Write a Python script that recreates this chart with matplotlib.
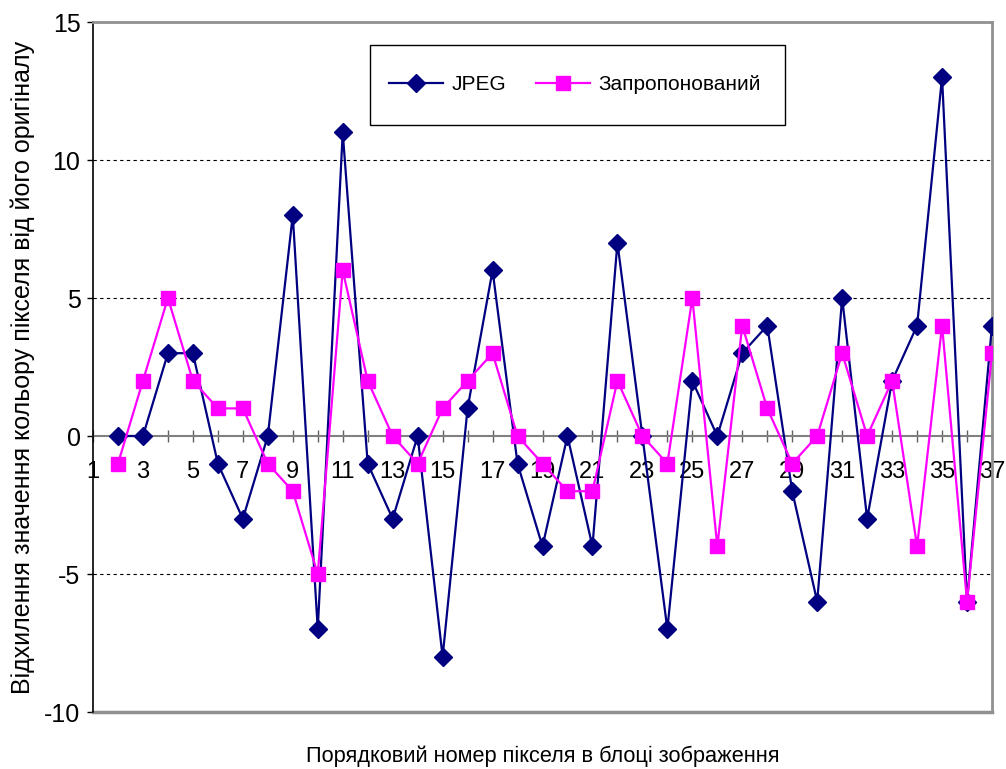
"""
Deviation of pixel colour values from the original: JPEG vs proposed method.
"""

import matplotlib

matplotlib.use("Agg")

import matplotlib.pyplot as plt
from matplotlib.patches import Rectangle

plt.rcParams["font.family"] = ["Liberation Sans", "DejaVu Sans"]

# pixel index inside the image block (first value sits on tick "2")
pixel_no = list(range(2, 38))

jpeg = [0, 0, 3, 3, -1, -3, 0, 8, -7, 11, -1, -3, 0, -8, 1, 6, -1, -4,
        0, -4, 7, 0, -7, 2, 0, 3, 4, -2, -6, 5, -3, 2, 4, 13, -6, 4]
proposed = [-1, 2, 5, 2, 1, 1, -1, -2, -5, 6, 2, 0, -1, 1, 2, 3, 0, -1,
            -2, -2, 2, 0, -1, 5, -4, 4, 1, -1, 0, 3, 0, 2, -4, 4, -6, 3]

x_labels = [str(n) for n in range(1, 38, 2)]
y_ticks = [-10, -5, 0, 5, 10, 15]

W, H = 1006, 769
fig = plt.figure(figsize=(W / 100, H / 100), dpi=100)
ax = fig.add_axes([93 / W, 1 - 712 / H, (992 - 93) / W, (712 - 22) / H])

# dashed grid lines (Excel style)
for g in (-5, 5, 10):
    ax.axhline(g, color="black", lw=0.8, ls=(0, (3, 3)), zorder=1)

ax.plot(pixel_no, jpeg, color="#000080", lw=1.6, marker="D", ms=9,
        label="JPEG", zorder=3)
ax.plot(pixel_no, proposed, color="#FF00FF", lw=1.6, marker="s", ms=10,
        label="Запропонований", zorder=4)

ax.set_xlim(1, 37)
ax.set_ylim(-10, 15)
ax.set_yticks(y_ticks)
ax.set_yticklabels([str(v) for v in y_ticks], fontsize=18)

# category axis crosses at zero
ax.spines["bottom"].set_position(("data", 0))
ax.spines["bottom"].set_color("#808080")
ax.spines["bottom"].set_linewidth(1.5)
ax.spines["bottom"].set_zorder(2)
ax.spines["top"].set_color("#909090")
ax.spines["top"].set_linewidth(2)
ax.spines["right"].set_color("#909090")
ax.spines["right"].set_linewidth(2)
ax.spines["left"].set_color("black")
ax.spines["left"].set_linewidth(1.2)
ax.axhline(-10, color="#909090", lw=2.5, zorder=2, clip_on=False)

ax.set_xticks(range(1, 38, 2))
ax.set_xticklabels(x_labels, fontsize=17)
ax.set_xticks(range(1, 38), minor=True)
ax.tick_params(axis="x", which="both", direction="inout", length=8,
               color="#606060", width=1, pad=14)
ax.tick_params(axis="y", direction="out", length=4, width=1, pad=5)

ax.set_xlabel("Порядковий номер пікселя в блоці зображення", fontsize=15.7)
ax.xaxis.set_label_coords(0.5, -0.048)
ax.set_ylabel("Відхилення значення кольору пікселя від його оригіналу",
              fontsize=18)
ax.yaxis.set_label_coords(-0.064, 0.5)

# legend box drawn as a plain rectangle, entries centred inside it
fig.patches.append(Rectangle((370 / W, 1 - 125 / H), 415 / W, 80 / H,
                             transform=fig.transFigure, fill=False,
                             edgecolor="black", lw=1.0))
ax.legend(loc="center", bbox_to_anchor=(575 / W, 1 - 85 / H),
          bbox_transform=fig.transFigure, ncol=2, fontsize=15,
          frameon=False, handlelength=2.6, columnspacing=1.45,
          handletextpad=0.4)

fig.savefig("out.png", dpi=100)
